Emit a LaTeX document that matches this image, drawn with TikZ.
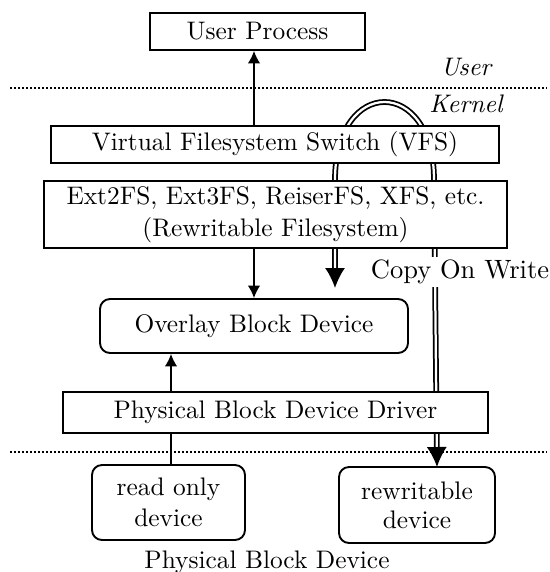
\documentclass[tikz,border=0pt]{standalone}
\usetikzlibrary{arrows.meta}
\begin{document}
\begin{tikzpicture}[x=0.4pt,y=-0.4pt,
  every node/.style={font=\fontsize{10.15pt}{12.6pt}\selectfont},
  box/.style={draw,line width=0.75pt,fill=white,inner sep=0pt,align=center},
  rbox/.style={box,rounded corners=4pt},
  sarrow/.style={line width=0.6pt,-{Latex[length=5pt,width=5pt]}},
  plain/.style={line width=0.6pt},
  dline/.style={double,line width=0.7pt,double distance=0.9pt,{Latex[length=8pt,width=8pt]}-{Latex[length=8pt,width=8pt]}},
  sep/.style={line width=0.6pt,dash pattern=on 0.6pt off 1pt},
  lbl/.style={inner sep=1pt}]
\useasboundingbox (0,0) rectangle (550,572);
% separators
\coordinate (s1l) at (10,88); \coordinate (s1r) at (547,88);
\coordinate (s2l) at (10,452); \coordinate (s2r) at (547,452);
\draw[sep] (s1l) -- (s1r);
\draw[sep] (s2l) -- (s2r);
% copy-on-write path (drawn behind boxes)
\coordinate (cwa) at (335,288);
\coordinate (cwb) at (335,180);
\coordinate (cwc) at (434,180);
\coordinate (cwd) at (437,467);
\draw[dline] (cwa) -- (cwb) .. controls (335,76) and (434,76) .. (cwc) -- (cwd);
% boxes
\node[box,minimum width=86pt,minimum height=14.8pt] (up) at (257.5,31.5) {User Process};
\node[box,minimum width=179.2pt,minimum height=14.8pt] (vfs) at (275,144.5) {Virtual Filesystem Switch (VFS)};
\node[box,minimum width=185.2pt,minimum height=26.8pt] (ext) at (275.5,214.5) {Ext2FS, Ext3FS, ReiserFS, XFS, etc.\\(Rewritable Filesystem)};
\node[rbox,minimum width=123.2pt,minimum height=21.6pt] (ov) at (254,326) {Overlay Block Device};
\node[box,minimum width=170pt,minimum height=16.4pt] (drv) at (275.5,412.5) {Physical Block Device Driver};
\node[rbox,minimum width=61.2pt,minimum height=30pt] (ro) at (168.5,502.5) {read only\\device};
\node[rbox,minimum width=62.4pt,minimum height=30.4pt] (rw) at (417,505) {rewritable\\[-1pt]device};
% labels
\node[lbl] (user) at (466,67) {\itshape User};
\node[lbl] (kern) at (466,104) {\itshape Kernel};
\node[lbl,fill=white,font=\fontsize{10.6pt}{13pt}\selectfont] (cow) at (460,272) {Copy On Write};
\node[lbl] (pbd) at (267,562) {Physical Block Device};
% arrows
\draw[sarrow] (vfs.north -| up.south) ++(-3.5,0) coordinate (a1) -- (a1 |- up.south);
\draw[sarrow] (ext.south -| ov.north) coordinate (a2) -- (ov.north);
\coordinate (a3) at (171,0);
\draw[sarrow] (a3 |- drv.north) -- (a3 |- ov.south);
\draw[plain] (a3 |- ro.north) -- (a3 |- drv.south);
\end{tikzpicture}
\end{document}
